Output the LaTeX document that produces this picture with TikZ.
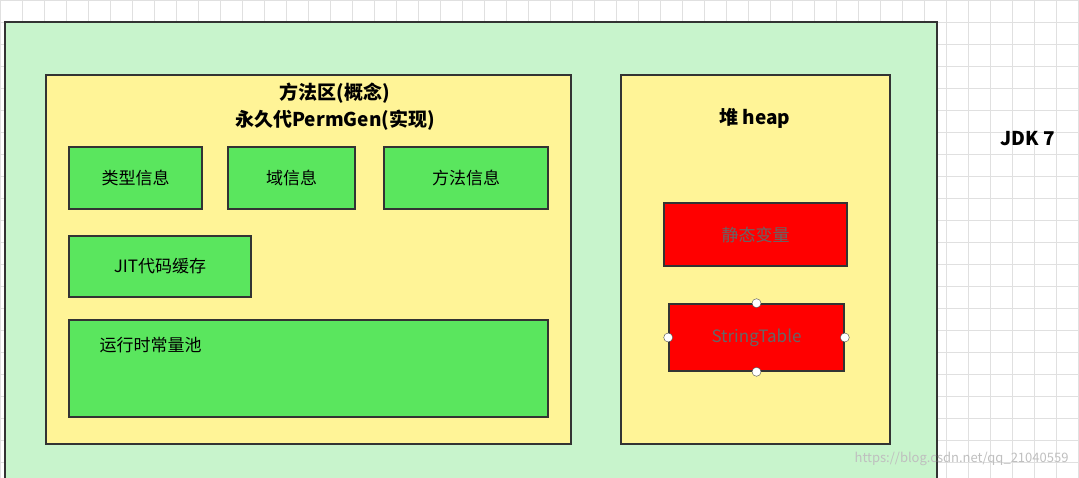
\documentclass[tikz,border=0pt]{standalone}
\usepackage{fontspec}
\setmainfont{Noto Sans CJK SC}
\definecolor{gfill}{HTML}{5AE65E}
\definecolor{bgg}{HTML}{C8F4CC}
\definecolor{yfill}{HTML}{FFF497}
\begin{document}
\begin{tikzpicture}[x=1pt,y=-1pt,
 box/.style={draw=black!80,line width=1.6pt},
 gbox/.style={box,fill=gfill},
 ybox/.style={box,fill=yfill},
 rbox/.style={box,fill=red},
 lbl/.style={font=\fontsize{17}{20}\selectfont},
 ttl/.style={font=\bfseries\fontsize{19}{27}\selectfont},
 hdl/.style={circle,draw=black!70,fill=white,inner sep=0pt,minimum size=9pt}]
\useasboundingbox (0,0) rectangle (1079,478);
\fill[white] (0,0) rectangle (1079,478);
\draw[black!12,step=22pt] (0,0) grid (1079,478);
\path[box,fill=bgg] (5,22) rectangle (937,485);
\path[ybox] (46,75) rectangle (571,444);
\path[ybox] (621,75) rectangle (890,444);
\node[ttl,align=center] (t1) at (335,107) {方法区(概念)\\永久代PermGen(实现)};
\node[gbox,lbl,minimum width=133pt,minimum height=62pt] (a) at (135.5,178) {类型信息};
\node[gbox,lbl,minimum width=127pt,minimum height=62pt] (b) at (291.5,178) {域信息};
\node[gbox,lbl,minimum width=164pt,minimum height=62pt] (c) at (466,178) {方法信息};
\node[gbox,lbl,minimum width=182pt,minimum height=61pt] (d) at (160,266.5) {JIT代码缓存};
\path[gbox] (69,320) rectangle (548,417);
\node[lbl,anchor=west] (e) at (96,345) {运行时常量池};
\node[ttl] (h) at (755,118) {堆 heap};
\node[rbox,lbl,text=black!60,minimum width=183pt,minimum height=63pt] (s) at (755.5,234.5) {静态变量};
\node[rbox,lbl,text=black!60,minimum width=175pt,minimum height=67pt] (st) at (756.5,337.5) {StringTable};
\node[hdl] (h1) at (st.north) {};
\node[hdl] (h2) at (st.south) {};
\node[hdl] (h3) at (st.west) {};
\node[hdl] (h4) at (st.east) {};
\node[ttl] (j) at (1028,139) {JDK 7};
\node[text=black!25,font=\fontsize{13}{15}\selectfont,anchor=east] (w) at (1072,459) {https://blog.csdn.net/qq\_21040559};
\end{tikzpicture}
\end{document}
